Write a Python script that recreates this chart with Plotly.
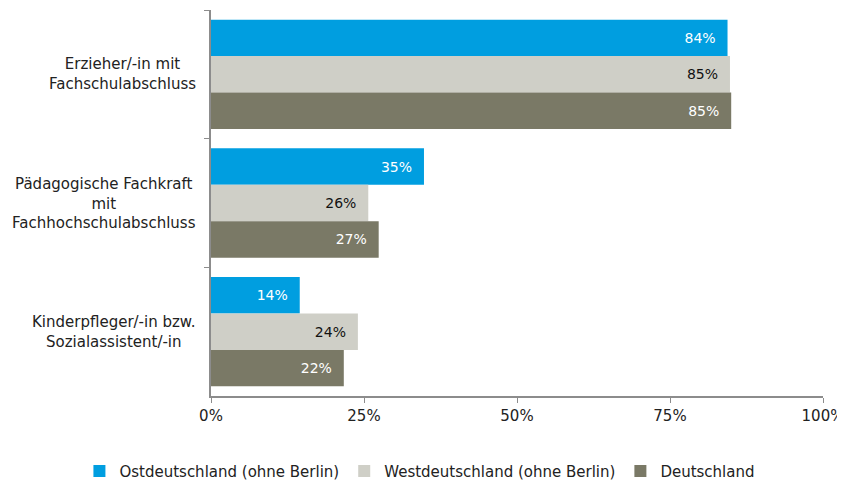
import plotly.graph_objects as go

categories = ["Erzieher/-in mit<br>Fachschulabschluss",
              "Pädagogische Fachkraft<br>mit<br>Fachhochschulabschluss",
              "Kinderpfleger/-in bzw.<br>Sozialassistent/-in"]
series_names = ["Ostdeutschland (ohne Berlin)", "Westdeutschland (ohne Berlin)", "Deutschland"]
ost = [0.844, 0.348, 0.145]
west = [0.848, 0.257, 0.240]
de = [0.850, 0.274, 0.217]
colors = ["#009EE0", "#CFCFC7", "#7A7966"]
text_colors = ["white", "#111111", "white"]

FONT = "DejaVu Sans"
fig = go.Figure()
for name, vals, c, tc in zip(series_names, [ost, west, de], colors, text_colors):
    fig.add_trace(go.Bar(
        y=categories, x=vals, name=name, orientation="h",
        marker=dict(color=c, line=dict(width=0)),
        text=[f"{round(v*100):.0f}%\u00a0\u00a0" for v in vals],
        textposition="inside", insidetextanchor="end",
        textfont=dict(color=tc, size=14, family=FONT),
    ))

for cat in categories:
    fig.add_annotation(x=0, xref="paper", y=cat, yref="y", text=cat,
                       xanchor="right", yanchor="middle", align="center",
                       xshift=-13, showarrow=False,
                       font=dict(size=15, family=FONT, color="#222222"))

fig.update_layout(
    barmode="group", bargap=0.15, bargroupgap=0,
    width=837, height=480,
    margin=dict(l=203, r=22, t=2, b=92, autoexpand=False),
    paper_bgcolor="white", plot_bgcolor="white",
    font=dict(family=FONT, size=15, color="#222222"),
    showlegend=True,
    legend=dict(orientation="h", x=-0.215, xanchor="left", y=-0.238, yanchor="bottom",
                font=dict(size=15, color="#222222"), traceorder="normal"),
    uniformtext=dict(minsize=8, mode="show"),
)
fig.update_xaxes(range=[0, 1], tickvals=[0, 0.25, 0.5, 0.75, 1.0],
                 ticktext=["0%", "25%", "50%", "75%", "100%"],
                 showgrid=False, zeroline=False, showline=True, linecolor="#8C8C8C",
                 linewidth=1.5, ticks="outside", ticklen=5, tickcolor="#8C8C8C",
                 tickfont=dict(size=15))
fig.update_yaxes(autorange="reversed", showgrid=False, showline=True,
                 linecolor="#8C8C8C", linewidth=1.5, ticks="outside", ticklen=5,
                 tickcolor="#8C8C8C", tickson="boundaries", showticklabels=False)

fig.write_html("out.html")
